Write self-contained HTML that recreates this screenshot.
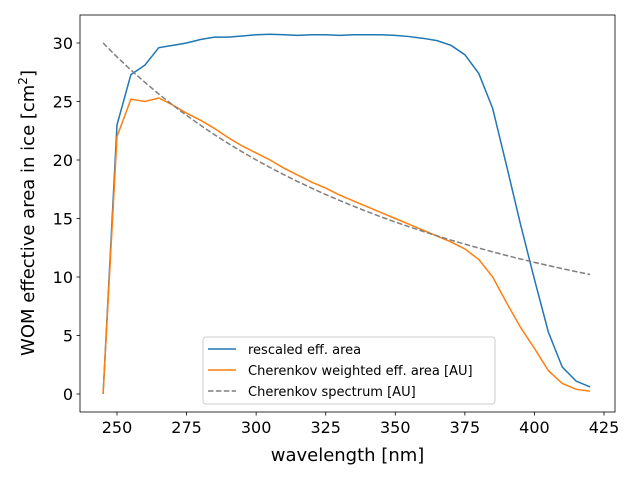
<!DOCTYPE html>
<html><head><meta charset="utf-8"><style>
body{margin:0;background:#fff}
svg text{font-family:"DejaVu Sans","Liberation Sans",sans-serif}
</style></head><body>
<svg id="chart" width="640" height="480" xmlns="http://www.w3.org/2000/svg"></svg>
<script>
const wavelengths=[245,250,255,260,265,270,275,280,285,290,295,300,305,310,315,320,325,330,335,340,345,350,355,360,365,370,375,380,385,390,395,400,405,410,415,420];
const effArea=[0,23,27.3,28.1,29.6,29.8,30.0,30.3,30.5,30.5,30.6,30.7,30.75,30.7,30.65,30.7,30.7,30.65,30.7,30.7,30.7,30.65,30.55,30.4,30.2,29.8,29.0,27.4,24.4,19.5,14.5,9.8,5.3,2.3,1.1,0.6];
const weighted=[0,22,25.2,25.0,25.3,24.7,24.0,23.4,22.7,21.9,21.2,20.6,20.0,19.3,18.7,18.1,17.6,17.0,16.5,16.0,15.5,15.0,14.5,14.0,13.5,13.0,12.4,11.5,10.0,7.8,5.7,3.9,2.0,0.9,0.4,0.25];
const spectrum=[30.0,28.81,27.69,26.64,25.64,24.70,23.81,22.97,22.17,21.41,20.69,20.01,19.36,18.74,18.15,17.59,17.05,16.54,16.05,15.58,15.13,14.70,14.29,13.90,13.52,13.15,12.81,12.47,12.15,11.84,11.54,11.25,10.98,10.71,10.46,10.21];
const xTicks=[250,275,300,325,350,375,400,425];
const yTicks=[0,5,10,15,20,25,30];
const L=80,R=615,T=15,B=412;
const X=v=>117+(v-250)*(487/175);
const Y=v=>394-v*(351/30);
const svg=document.getElementById('chart');
const NS='http://www.w3.org/2000/svg';
function mk(tag,attrs,parent){const e=document.createElementNS(NS,tag);for(const k in attrs)e.setAttribute(k,attrs[k]);(parent||svg).appendChild(e);return e;}
function series(vals,color,name,dash){
 const p=vals.map((v,i)=>X(wavelengths[i]).toFixed(2)+','+Y(v).toFixed(2)).join(' ');
 const e=mk('polyline',{points:p,fill:'none',stroke:color,'stroke-width':1.5});
 if(dash)e.setAttribute('stroke-dasharray',dash);
 
 
}
series(effArea,'#1f77b4','rescaled-eff-area-line');
series(weighted,'#ff7f0e','cherenkov-weighted-line');
series(spectrum,'#7f7f7f','cherenkov-spectrum-line','5.5,2.4');
const frame=mk('rect',{x:L,y:T,width:R-L,height:B-T,fill:'none',stroke:'#000','stroke-width':0.8});


xTicks.forEach(t=>{
 mk('line',{x1:X(t),x2:X(t),y1:B,y2:B+3.5,stroke:'#000','stroke-width':0.8});
 const tx=mk('text',{x:X(t),y:B+21,'font-size':16,'text-anchor':'middle'});tx.textContent=t;
 
 
});
yTicks.forEach(t=>{
 mk('line',{x1:L,x2:L-3.5,y1:Y(t),y2:Y(t),stroke:'#000','stroke-width':0.8});
 const tx=mk('text',{x:L-7,y:Y(t)+6,'font-size':16,'text-anchor':'end'});tx.textContent=t;
 
 
});
const xt=mk('text',{x:(L+R)/2,y:461,'font-size':18,'text-anchor':'middle'});xt.textContent='wavelength [nm]';


const yt=mk('text',{x:0,y:0,'font-size':18,'text-anchor':'middle',transform:'translate(34,213) rotate(-90)'});
yt.innerHTML='WOM effective area in ice [cm<tspan dy="-7" font-size="12">2</tspan><tspan dy="7">]</tspan>';


const lg=mk('g',{});


mk('rect',{x:203,y:337,width:292,height:67,rx:3,fill:'#fff','fill-opacity':0.8,stroke:'#ccc','stroke-width':1},lg);
const entries=[['rescaled eff. area','#1f77b4',null],['Cherenkov weighted eff. area [AU]','#ff7f0e',null],['Cherenkov spectrum [AU]','#7f7f7f','5.5,2.4']];
entries.forEach((en,i)=>{
 const y=349+i*21;
 const ln=mk('line',{x1:208,x2:236,y1:y,y2:y,stroke:en[1],'stroke-width':1.5},lg);
 if(en[2])ln.setAttribute('stroke-dasharray',en[2]);
 const tx=mk('text',{x:248,y:y+5,'font-size':13},lg);tx.textContent=en[0];
 
 
});
</script>
</body></html>
